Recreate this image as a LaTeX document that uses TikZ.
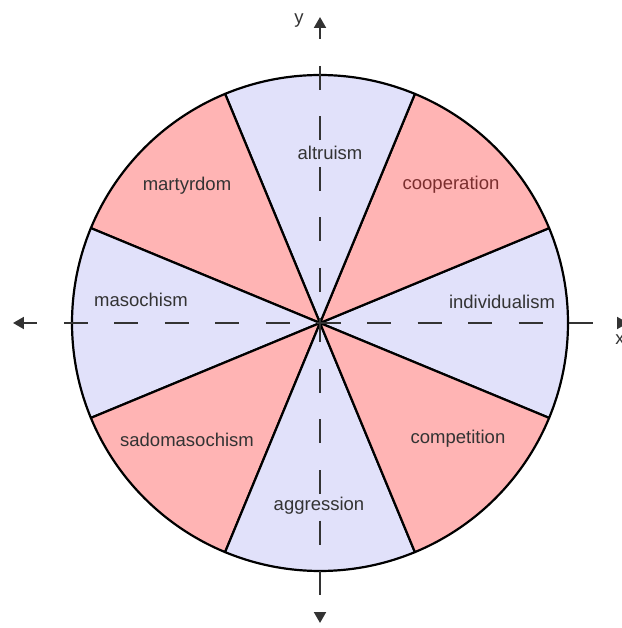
\documentclass[tikz,border=0pt]{standalone}
\usepackage{fontspec}
\setmainfont{Liberation Sans}
\usetikzlibrary{arrows.meta}
\definecolor{lavender}{HTML}{E1E1FA}
\definecolor{rose}{HTML}{FFB4B4}
\definecolor{wine}{HTML}{7A2E2E}
\definecolor{ink}{HTML}{333333}
\begin{document}
\begin{tikzpicture}[x=1pt,y=1pt,line join=round,font=\fontsize{18.5}{20}\selectfont]
		\useasboundingbox (-320,-305) rectangle (301,323) ;
		\coordinate (O) at (0,0) ; \coordinate (N) at (0,306) ;
		\coordinate (S) at (0,-300) ; \coordinate (W) at (-307,0) ;
		\coordinate (E) at (308,0) ;
		\foreach \Ang/\Col in {0/lavender,45/rose,90/lavender,135/rose,180/lavender,225/rose,270/lavender,315/rose} \filldraw[line width=2.2pt,fill=\Col] (O) -- (\Ang-22.5:248) arc[start angle=\Ang-22.5,end angle=\Ang+22.5,radius=248] -- cycle ;
		\draw[line width=2pt,ink,dash pattern=on 24pt off 26.5pt,dash phase=12pt,{Triangle[width=12pt,length=11pt]}-{Triangle[width=12pt,length=11pt]}] (N) -- (S) ;
		\draw[line width=2pt,ink,dash pattern=on 24pt off 26.5pt,dash phase=10pt,{Triangle[width=12pt,length=11pt]}-{Triangle[width=12pt,length=11pt]}] (W) -- (E) ;
		\foreach \Name/\Pos/\Col in {individualism/{(182,21)}/ink,cooperation/{(131,138)}/wine,altruism/{(10,170)}/ink,martyrdom/{(-133,137)}/ink,masochism/{(-179,23)}/ink,sadomasochism/{(-133,-117)}/ink,aggression/{(-1,-183)}/ink,competition/{(138,-116)}/ink} \node[text=\Col] (\Name) at \Pos {\Name} ;
		\node[text=ink] (ylabel) at (-21,302) {y} ;
		\node[text=ink] (xlabel) at (300,-17) {x} ;
	\end{tikzpicture}
\end{document}
